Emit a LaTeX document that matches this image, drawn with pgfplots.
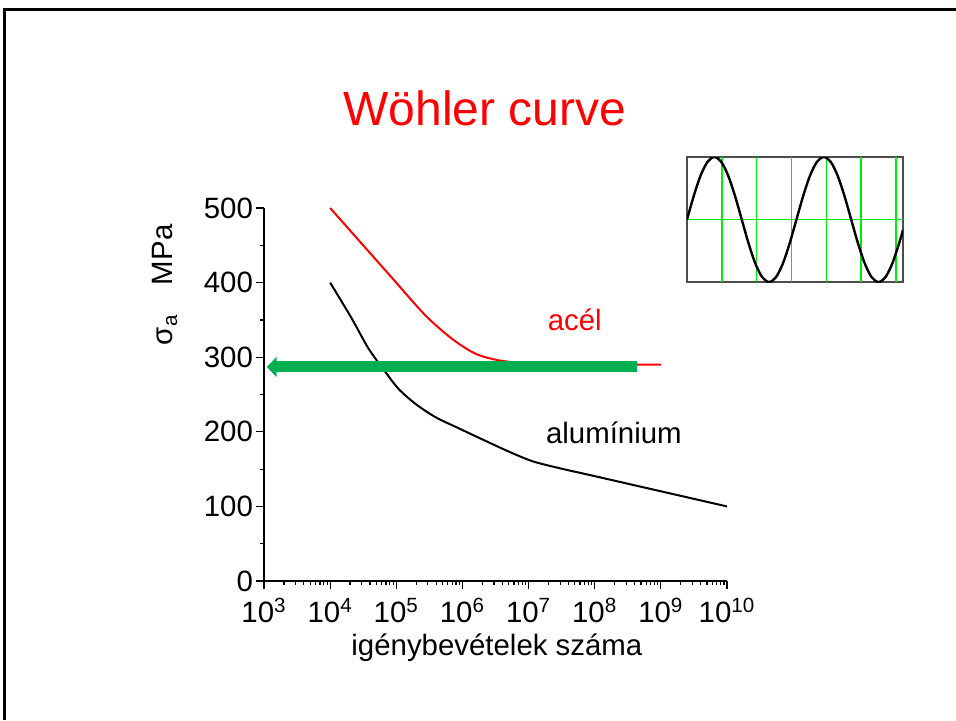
\documentclass[border=0pt]{standalone}
\usepackage{pgfplots}
\pgfplotsset{compat=1.18}
\usetikzlibrary{arrows.meta}
\usepackage{fontspec}
\setmainfont{Liberation Sans}
\definecolor{arrowgreen}{RGB}{0,176,80}
\definecolor{gridgreen}{RGB}{0,235,0}
\newcommand{\slidefont}{\fontsize{14.7}{17}\selectfont}
\begin{document}
\begin{tikzpicture}
\path[use as bounding box] (0pt,0pt) rectangle (478pt,-360pt);
% slide frame
\draw[line width=1.1pt] (2.25pt,-360pt) -- (2.25pt,-4.75pt) -- (478pt,-4.75pt);
\node[red, font=\fontsize{24}{29}\selectfont] at (242.5pt,-54pt) {Wöhler curve};

% main chart
\begin{axis}[
    at={(132pt,-290.5pt)}, anchor=south west,
    width=231.5pt, height=186.5pt, scale only axis,
    xmode=log, xmin=1e3, xmax=1e10,
    ymin=0, ymax=500,
    axis x line=bottom, axis y line=left,
    axis line style={-, line width=0.6pt},
    tick align=outside,
    tick style={line width=0.6pt, black},
    major tick length=4pt, minor tick length=2pt,
    xtick={1e3,1e4,1e5,1e6,1e7,1e8,1e9,1e10},
    xticklabels={10\textsuperscript{3},10\textsuperscript{4},10\textsuperscript{5},10\textsuperscript{6},
                 10\textsuperscript{7},10\textsuperscript{8},10\textsuperscript{9},10\textsuperscript{10}},
    minor xtick={2e3,3e3,4e3,5e3,6e3,7e3,8e3,9e3,
                 2e4,3e4,4e4,5e4,6e4,7e4,8e4,9e4,
                 2e5,3e5,4e5,5e5,6e5,7e5,8e5,9e5,
                 2e6,3e6,4e6,5e6,6e6,7e6,8e6,9e6,
                 2e7,3e7,4e7,5e7,6e7,7e7,8e7,9e7,
                 2e8,3e8,4e8,5e8,6e8,7e8,8e8,9e8,
                 2e9,3e9,4e9,5e9,6e9,7e9,8e9,9e9},
    ytick={0,100,200,300,400,500}, minor y tick num=1,
    tick label style={font=\slidefont},
    yticklabel style={xshift=2pt},
    xticklabel style={yshift=-1pt},
    /pgf/number format/assume math mode=true,
    xlabel={igénybevételek száma},
    ylabel={σ\textsubscript{a}\quad MPa},
    label style={font=\slidefont},
    xlabel style={at={(axis description cs:0.503,-0.18)}, anchor=center},
    ylabel style={at={(axis description cs:-0.214,0.794)}, anchor=center},
    clip=false,
]
% acél
\addplot[red, line width=1pt, smooth] coordinates {
    (1e4,500) (3.16e4,450) (8.5e4,407) (2.72e5,356.6) (6.89e5,325) (1.55e6,305)
    (3.47e6,296) (8.83e6,292) (2.75e7,290.5) (1e8,290) (1e9,290)
};
% alumínium
\addplot[black, line width=1pt, smooth] coordinates {
    (1e4,400) (2.12e4,352) (3.78e4,312) (6.75e4,281) (1.07e5,258) (1.92e5,238)
    (3.85e5,220) (8.67e5,205) (2.77e6,184) (5.5e6,172) (1.2e7,160) (3.56e7,149.5)
    (7.6e7,143) (7.6e8,122.7) (1e10,100)
};
% arrow
\addplot[arrowgreen, line width=5.5pt, {Triangle[length=5pt,width=10pt]}-] coordinates {
    (1.1e3,287) (4.4e8,287)
};
\node[red, font=\slidefont] at (axis cs:5e7,350) {acél};
\node[black, font=\slidefont] at (axis cs:1.95e8,198) {alumínium};
\end{axis}

% inset sine
\begin{axis}[
    at={(343.5pt,-141pt)}, anchor=south west,
    width=108pt, height=62.5pt, scale only axis,
    xmin=0, xmax=12.4, ymin=-1, ymax=1,
    xtick=\empty, ytick=\empty,
    axis line style={gray!60!black, line width=0.6pt},
]
% green grid
\addplot[gridgreen, line width=0.8pt] coordinates {(0,0) (12.4,0)};
\addplot[gridgreen, line width=0.8pt] coordinates {(2,-1) (2,1)};
\addplot[gridgreen, line width=0.8pt] coordinates {(4,-1) (4,1)};
\addplot[gridgreen, line width=0.8pt] coordinates {(6,-1) (6,1)};
\addplot[gridgreen, line width=0.8pt] coordinates {(8,-1) (8,1)};
\addplot[gridgreen, line width=0.8pt] coordinates {(10,-1) (10,1)};
\addplot[gridgreen, line width=0.8pt] coordinates {(12,-1) (12,1)};
\addplot[black, line width=1.2pt, smooth] coordinates {
    (0,0) (0.393,0.383) (0.785,0.707) (1.178,0.924) (1.571,1) (1.963,0.924)
    (2.356,0.707) (2.749,0.383) (3.142,0) (3.534,-0.383) (3.927,-0.707) (4.320,-0.924)
    (4.712,-1) (5.105,-0.924) (5.498,-0.707) (5.890,-0.383) (6.283,0) (6.676,0.383)
    (7.069,0.707) (7.461,0.924) (7.854,1) (8.247,0.924) (8.639,0.707) (9.032,0.383)
    (9.425,0) (9.817,-0.383) (10.210,-0.707) (10.603,-0.924) (10.996,-1) (11.388,-0.924)
    (11.781,-0.707) (12.174,-0.383) (12.4,-0.165)
};
\end{axis}
\end{tikzpicture}
\end{document}
